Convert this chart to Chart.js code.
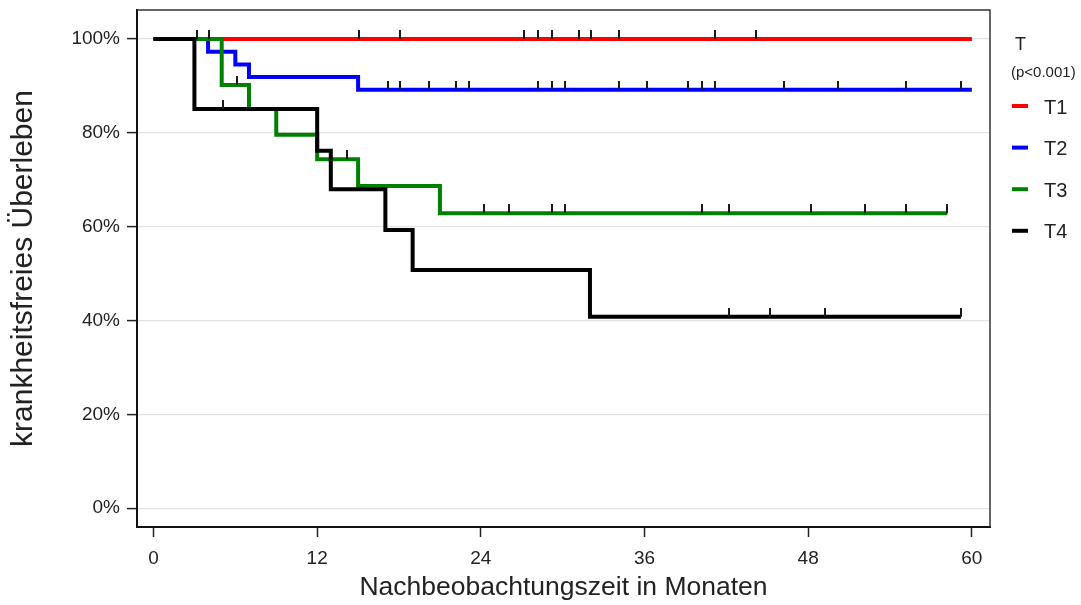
<!DOCTYPE html>
<html>
<head>
<meta charset="utf-8">
<script src="https://cdn.jsdelivr.net/npm/chart.js@4/dist/chart.umd.min.js"></script>
<style>
  html, body { margin: 0; padding: 0; background: #fff; }
  #wrap { width: 1081px; height: 605px; }
</style>
</head>
<body>
<div id="wrap"><canvas id="km" width="1081" height="605"></canvas></div>
<script>
// Kaplan-Meier curves per T stage: event times (months) and survival (%)
const groupNames = ['T1', 'T2', 'T3', 'T4'];
const groupColors = ['#ff0000', '#0000ff', '#008000', '#000000'];
const legendTitle = 'T';
const legendNote = '(p<0.001)';

const t1Times = [0, 60];
const t1Surv = [100, 100];
const t2Times = [0, 4, 6, 7, 15, 60];
const t2Surv = [100, 97.3, 94.6, 91.9, 89.2, 89.2];
const t3Times = [0, 5, 7, 9, 12, 15, 21, 58.2];
const t3Surv = [100, 90.2, 85.1, 79.6, 74.4, 68.7, 62.9, 62.9];
const t4Times = [0, 3, 12, 13, 17, 19, 32, 59.2];
const t4Surv = [100, 85.1, 76.2, 68.0, 59.3, 50.8, 40.8, 40.8];

// censored observations (months)
const t1Censor = [3.2, 4.1, 15.1, 18.1, 27.2, 28.2, 29.2, 31.2, 32.1, 34.1, 41.2, 44.2];
const t2Censor = [17.2, 18.1, 20.2, 22.2, 23.1, 28.2, 29.2, 30.2, 34.1, 36.2, 39.2, 40.2, 41.2, 46.2, 50.2, 55.2, 59.2];
const t3Censor = [6.1, 14.2, 24.2, 26.1, 29.2, 30.2, 40.2, 42.2, 48.2, 52.2, 55.2, 58.2];
const t4Censor = [5.1, 42.2, 45.2, 49.2, 59.2];

const xTicks = [0, 12, 24, 36, 48, 60];
const yTicks = [0, 20, 40, 60, 80, 100];
const xTitle = 'Nachbeobachtungszeit in Monaten';
const yTitle = 'krankheitsfreies \u00dcberleben';

const FONT = "'Liberation Sans', Arial, Helvetica, sans-serif";

// survival value at time t (step function, right-continuous)
function survAt(times, surv, t) {
  let s = surv[0];
  for (let i = 0; i < times.length; i++) {
    if (times[i] <= t) s = surv[i];
  }
  return s;
}

// censor mark: short vertical tick sitting on top of the curve
const tickMark = document.createElement('canvas');
tickMark.width = 2;
tickMark.height = 18;
(function () {
  const c = tickMark.getContext('2d');
  c.fillStyle = '#1a1a1a';
  c.fillRect(0, 0, 2, 9);
})();

const curves = [
  [t1Times, t1Surv, t1Censor],
  [t2Times, t2Surv, t2Censor],
  [t3Times, t3Surv, t3Censor],
  [t4Times, t4Surv, t4Censor]
];

const datasets = [];
curves.forEach(([times, surv, cens], i) => {
  datasets.push({
    label: groupNames[i],
    data: times.map((t, j) => ({ x: t, y: surv[j] })),
    borderColor: groupColors[i],
    borderWidth: 4,
    stepped: true,
    pointRadius: 0,
    fill: false,
    order: 10 - i
  });
  datasets.push({
    label: groupNames[i] + ' zensiert',
    data: cens.map(t => ({ x: t, y: survAt(times, surv, t) })),
    showLine: false,
    pointStyle: tickMark,
    pointRadius: 3,
    order: 0
  });
});

// frame around the panel (top and right sides)
const framePlugin = {
  id: 'framePlugin',
  afterDatasetsDraw(chart) {
    const { ctx, chartArea: a } = chart;
    ctx.save();
    ctx.strokeStyle = '#333';
    ctx.lineWidth = 1.5;
    ctx.beginPath();
    ctx.moveTo(a.left, a.top);
    ctx.lineTo(a.right, a.top);
    ctx.lineTo(a.right, a.bottom);
    ctx.stroke();
    ctx.restore();
  }
};

// legend on the right: title, p-value, coloured swatches
const legendPlugin = {
  id: 'kmLegend',
  afterDraw(chart) {
    const ctx = chart.ctx;
    const x0 = chart.chartArea.right + 21;
    ctx.save();
    ctx.fillStyle = '#222';
    ctx.textBaseline = 'middle';
    ctx.textAlign = 'left';
    ctx.font = '18px ' + FONT;
    ctx.fillText(legendTitle, x0 + 4, 45);
    ctx.font = '15px ' + FONT;
    ctx.fillText(legendNote, x0, 73);
    groupNames.forEach((name, i) => {
      const y = 106 + i * 41.6;
      ctx.strokeStyle = groupColors[i];
      ctx.lineWidth = 4;
      ctx.beginPath();
      ctx.moveTo(x0 + 1, y);
      ctx.lineTo(x0 + 17, y);
      ctx.stroke();
      ctx.font = '20px ' + FONT;
      ctx.fillStyle = '#222';
      ctx.fillText(name, x0 + 33, y + 2);
    });
    ctx.restore();
  }
};

new Chart(document.getElementById('km'), {
  type: 'line',
  data: { datasets },
  plugins: [framePlugin, legendPlugin],
  options: {
    responsive: false,
    animation: false,
    layout: { padding: { left: 0, top: 10, right: 91, bottom: 1 } },
    scales: {
      x: {
        type: 'linear',
        min: -1.21,
        max: 61.33,
        afterFit(scale) {
          scale.height = 77;
          scale.paddingLeft = 0;
          scale.paddingRight = 0;
        },
        afterBuildTicks(scale) { scale.ticks = xTicks.map(v => ({ value: v })); },
        grid: { drawOnChartArea: false, drawTicks: true, tickLength: 10, tickColor: '#222', tickWidth: 1.5 },
        border: { display: true, color: '#111', width: 2 },
        ticks: { font: { family: FONT, size: 19 }, color: '#222', padding: 10, maxRotation: 0 },
        title: { display: true, text: xTitle, font: { family: FONT, size: 26.5 }, color: '#222', padding: { top: 0, bottom: 0 } }
      },
      y: {
        type: 'linear',
        min: -4,
        max: 106.2,
        afterFit(scale) {
          scale.width = 137;
          scale.paddingTop = 0;
          scale.paddingBottom = 0;
        },
        afterBuildTicks(scale) { scale.ticks = yTicks.map(v => ({ value: v })); },
        grid: { color: '#e3e3e3', lineWidth: 1.2, drawTicks: true, tickLength: 10, tickColor: '#222', tickWidth: 1.5 },
        border: { display: true, color: '#111', width: 2 },
        ticks: { font: { family: FONT, size: 19 }, color: '#222', padding: 7, callback: v => v + '%' },
        title: { display: true, text: yTitle, font: { family: FONT, size: 30 }, color: '#222', padding: { top: 6, bottom: 0 } }
      }
    },
    plugins: {
      legend: { display: false },
      tooltip: { enabled: false }
    }
  }
});
</script>
</body>
</html>
